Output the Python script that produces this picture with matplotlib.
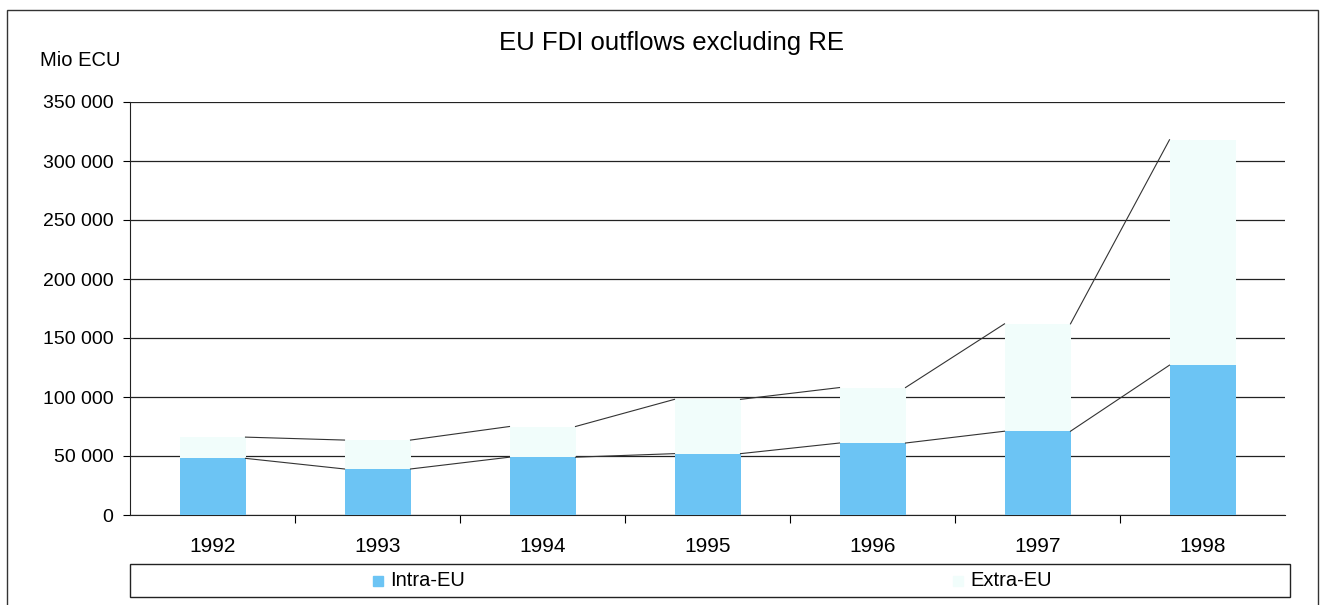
import matplotlib.pyplot as plt
import numpy as np
from matplotlib.patches import Rectangle

plt.rcParams['font.family'] = ['Liberation Sans', 'DejaVu Sans']

# data (Mio ECU)
years = ['1992', '1993', '1994', '1995', '1996', '1997', '1998']
intra_eu = [48000, 39000, 49000, 52000, 61000, 71000, 127000]
extra_eu = [18000, 24500, 26000, 46000, 47000, 91000, 191000]

# colours
intra_col = '#6cc4f4'
extra_col = '#f1fdfb'
line_col = '#333333'

fig = plt.figure(figsize=(13.2, 6.05), dpi=100)
fig.patch.set_facecolor('white')
ax = fig.add_axes([130/1320, 1 - 515/605, 1155/1320, 413/605])

x = np.arange(len(years))
w = 0.4
intra = np.array(intra_eu)
total = intra + np.array(extra_eu)

ax.bar(x, intra, width=w, color=intra_col, zorder=3)
ax.bar(x, extra_eu, width=w, bottom=intra, color=extra_col, zorder=3)

# series lines between the stacks
for i in range(len(x) - 1):
    for tops in (intra, total):
        ax.plot([x[i] + w/2, x[i+1] - w/2], [tops[i], tops[i+1]],
                color=line_col, lw=0.8, zorder=4)

ax.set_xlim(-0.5, len(years) - 0.5)
ax.set_ylim(0, 350000)
ticks = np.arange(0, 350001, 50000)
ax.set_yticks(ticks)
ax.set_yticklabels([f"{t:,}".replace(',', ' ') for t in ticks], fontsize=14)
ax.yaxis.grid(True, color='#222222', lw=0.9, zorder=1)
ax.tick_params(axis='y', length=5, width=0.8, pad=7)

ax.set_xticks(x)
ax.set_xticklabels(years, fontsize=15)
ax.set_xticks(np.arange(0.5, len(years) - 0.5, 1), minor=True)
ax.tick_params(axis='x', which='major', length=0, pad=16)
ax.tick_params(axis='x', which='minor', length=6, width=0.8)

for s in ['top', 'right']:
    ax.spines[s].set_visible(False)
ax.spines['left'].set_color('#222222')
ax.spines['bottom'].set_color('#222222')
ax.set_facecolor('none')

fig.text(672/1320, 1 - 50/605, 'EU FDI outflows excluding RE', fontsize=18.5,
         ha='center', va='baseline')
fig.text(40/1320, 1 - 60/605, 'Mio ECU', fontsize=14.5, ha='left', va='center')

# outer frame
fig.patches.append(Rectangle((7/1320, -0.01), 1311/1320, 1 - 10/605 + 0.01,
                             transform=fig.transFigure, fill=False,
                             edgecolor='#333333', lw=1))

# legend box
fig.patches.append(Rectangle((130/1320, 1 - 597/605), 1160/1320, 33/605,
                             transform=fig.transFigure, fill=False,
                             edgecolor='#222222', lw=1))
ly = 1 - 581/605
fig.patches.append(Rectangle((373/1320, ly - 5/605), 10/1320, 10/605,
                             transform=fig.transFigure, color=intra_col))
fig.text(390/1320, ly, 'Intra-EU', fontsize=14.5, ha='left', va='center')
fig.patches.append(Rectangle((953/1320, ly - 5/605), 10/1320, 10/605,
                             transform=fig.transFigure, color=extra_col))
fig.text(970/1320, ly, 'Extra-EU', fontsize=14.5, ha='left', va='center')

fig.savefig('out.png', dpi=100)
